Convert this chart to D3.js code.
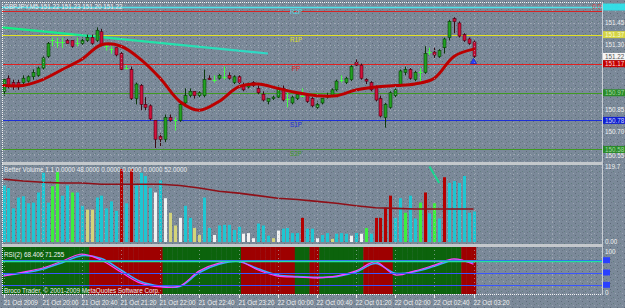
<!DOCTYPE html>
<html>
<head>
<meta charset="utf-8">
<script src="https://cdn.jsdelivr.net/npm/d3@7"></script>
<style>
html, body { margin: 0; padding: 0; background: #7a8898; }
svg { display: block; font-family: "Liberation Sans", Arial, sans-serif; }
</style>
</head>
<body>
<svg id="chart" width="625" height="308"></svg>
<script>
// ---- data ----
var timeLabels = ["21 Oct 2009", "21 Oct 20:00", "21 Oct 20:40", "21 Oct 21:20", "21 Oct 22:00",
  "21 Oct 22:40", "21 Oct 23:20", "22 Oct 00:00", "22 Oct 00:40", "22 Oct 01:20",
  "22 Oct 02:00", "22 Oct 02:40", "22 Oct 03:20"];
var labelBars = [0, 8, 16, 24, 32, 40, 48, 56, 64, 72, 80, 88, 96];

var opens = [150.98,151.07,151.04,151.04,151.04,151.05,151.08,151.09,151.14,151.22,
  151.33,151.32,151.32,151.33,151.33,151.31,151.31,151.33,151.35,151.33,
  151.39,151.29,151.27,151.28,151.24,151.14,151.13,150.93,151.02,150.89,
  150.88,150.78,150.67,150.65,150.80,150.78,150.78,150.90,150.95,150.98,
  150.95,150.95,151.07,151.06,151.07,151.08,151.09,151.04,151.08,151.02,
  151.01,151.04,151.00,150.96,150.91,150.93,150.94,151.00,150.93,150.90,
  150.93,150.95,150.95,150.93,150.87,150.90,150.94,150.95,150.99,151.06,
  151.04,151.06,151.18,151.16,151.06,151.04,151.01,150.93,150.80,150.87,
  150.95,151.02,151.11,151.13,151.06,151.11,151.11,151.25,151.25,151.22,
  151.28,151.35,151.48,151.45,151.37,151.34,151.32];
var highs = [151.07,151.09,151.06,151.06,151.09,151.09,151.13,151.15,151.22,151.32,
  151.35,151.35,151.35,151.34,151.33,151.35,151.35,151.37,151.37,151.42,
  151.41,151.31,151.29,151.28,151.25,151.16,151.15,151.04,151.03,150.94,
  150.89,150.78,150.69,150.82,150.82,150.80,150.90,151.00,151.00,150.98,
  150.98,151.13,151.09,151.09,151.10,151.15,151.11,151.09,151.09,151.04,
  151.04,151.05,151.02,150.98,150.93,150.95,151.02,151.02,150.97,150.95,
  150.97,151.00,150.95,150.94,150.91,150.93,150.97,151.00,151.06,151.09,
  151.08,151.16,151.20,151.17,151.07,151.05,151.02,150.95,150.90,150.98,
  151.00,151.13,151.15,151.14,151.12,151.14,151.29,151.28,151.28,151.27,
  151.35,151.47,151.49,151.46,151.38,151.35,151.33];
var lows = [150.95,151.00,150.99,150.99,151.02,151.04,151.06,151.08,151.13,151.21,
  151.29,151.28,151.28,151.31,151.28,151.29,151.30,151.32,151.30,151.32,
  151.29,151.26,151.24,151.22,151.12,151.13,150.92,150.89,150.85,150.85,
  150.78,150.59,150.60,150.63,150.77,150.71,150.77,150.89,150.94,150.93,
  150.94,150.94,151.06,151.04,151.06,151.06,151.06,151.03,151.03,150.98,
  151.00,151.01,150.96,150.91,150.89,150.92,150.93,150.91,150.87,150.89,
  150.92,150.94,150.90,150.87,150.86,150.89,150.93,150.94,150.98,151.04,
  151.03,151.05,151.15,151.06,151.03,150.98,150.91,150.80,150.73,150.86,
  150.94,151.01,151.09,151.06,151.05,151.04,151.10,151.23,151.21,151.21,
  151.24,151.33,151.38,151.35,151.32,151.30,151.21];
var closes = [151.06,151.02,151.02,151.01,151.07,151.08,151.11,151.14,151.21,151.31,
  151.33,151.32,151.32,151.31,151.29,151.31,151.33,151.35,151.31,151.40,
  151.30,151.29,151.27,151.23,151.13,151.14,150.93,151.03,150.89,150.87,
  150.79,150.65,150.65,150.80,150.78,150.78,150.89,150.95,150.98,150.95,
  150.97,151.06,151.06,151.06,151.09,151.08,151.07,151.08,151.04,150.99,
  151.03,151.02,150.97,150.92,150.93,150.94,151.00,150.92,150.93,150.94,
  150.96,150.95,150.91,150.88,150.89,150.93,150.95,150.99,151.05,151.06,
  151.07,151.15,151.16,151.07,151.05,150.99,150.92,150.81,150.89,150.97,
  150.99,151.12,151.13,151.07,151.11,151.11,151.24,151.25,151.23,151.26,
  151.34,151.46,151.46,151.36,151.33,151.31,151.22];

// indicator lines, one value every 4 bars
var sampleBars = [0,4,8,12,16,20,24,28,32,36,40,44,48,52,56,60,64,68,72,76,80,84,88,92,96];
var maValues = [151.02,151.02,151.06,151.13,151.20,151.30,151.29,151.20,151.07,150.91,
  150.85,150.91,151.01,151.03,151.00,150.97,150.95,150.95,150.99,151.01,
  151.02,151.03,151.07,151.22,151.27];
var volAvg = [99,96,94,93,93,91,91,91,91,89,85,80,77,73,69,67,64,61,57,54,53,52,52,52,52];
var rsiValues = [41,51,61,78,95,80,51,24,15,17,54,73,78,56,41,39,37,41,54,76,44,54,68,83,70];
var rsiSignal = [43,49,58,74,91,84,56,28,17,16,50,70,77,59,44,40,38,40,51,72,48,52,65,80,74];

var volumes = [89,85,53,70,72,61,62,78,109,62, 88,110,73,89,78,78,57,51,51,70,
  73,53,64,49,115,61,115,89,109,104, 85,78,97,69,46,26,38,57,38,22,
  11,70,22,11,26,27,27,19,24,13, 14,6,29,26,10,6,18,21,22,14,
  14,38,21,21,6,11,14,5,13,14, 13,10,14,13,22,13,38,38,54,73,
  38,69,46,73,37,62,78,45,61,37, 102,93,96,93,104,46,48];
var volKinds = ["c","c","c","c","c","c","c","c","c","c",
  "g","g","c","c","g","c","c","y","y","c",
  "c","c","c","c","r","c","r","c","c","c",
  "c","w","c","w","y","y","w","c","c","y",
  "y","c","c","w","c","c","c","c","c","w",
  "w","w","c","c","c","y","w","c","c","c",
  "c","r","c","c","w","c","c","y","c","c",
  "c","w","c","w","g","c","r","r","r","r",
  "c","c","g","c","c","g","r","c","g","c",
  "r","c","c","c","c","c","c"];

var rsiRedRuns = [[18, 32], [49, 59], [63, 64], [74, 79], [94, 96]];
var rsiLevels = [80, 50, 20];
var rsiSigLevel = 77;

var levelPrices = [151.56, 151.53, 151.37, 151.17, 150.97, 150.78, 150.58];
var levelNames = ["R2P", "", "R1P", "PP", "", "S1P", "S2P"];
var boxLevels = [0, 2, 3, 4, 5, 6];
var priceTicks = [151.45, 151.30, 151.15, 151.00, 150.85, 150.70, 150.55];
var bidPrice = 151.22;
var arrowPrice = 151.19;
var trendBars = [0, 54], trendPrices = [151.42, 151.24];
var volTrendBars = [87, 89], volTrendValues = [119, 93];

var titleText = "GBPJPY,M5  151.22 151.23 151.20 151.22";
var volTitle = "Better Volume 1.1 0.0000 48.0000 0.0000 0.0000 0.0000 52.0000";
var rsiTitle = "RSI(2) 68.406 71.255";
var copyText = "Broco Trader, \u00a9 2001-2009 MetaQuotes Software Corp.";

// ---- layout ----
var plotL = 2, plotR = 602;
var mainTop = 2, mainBot = 161;
var volTop = 165, volBot = 244;
var rsiTop = 247, rsiBot = 294;

var x = d3.scaleLinear().domain([0, 96]).range([3.5, 473.5]);
var step = x(1) - x(0);
var y = d3.scaleLinear().domain([150.70, 151.45]).range([132, 23]);
var yVol = d3.scaleLinear().domain([0, 119.7]).range([242, 166]);
var yRsi = d3.scaleLinear().domain([0, 100]).range([293, 252]);

var levelColor = ["#4fe3ea", "#d42424", "#e2e224", "#e02020", "#3f9a22", "#1d2fd6", "#3f9a22"];
var boxFill = ["#33dde6", null, "#d4d444", "#c40000", "#2a8a2a", "#1020d0", "#2a8a2a"];
var boxText = ["#3ae0e8", null, "#fafad0", "#ffd0d0", "#9fd89f", "#c8d0ff", "#9fd89f"];
var volColor = { c: "#1ec6d2", g: "#3cf03c", y: "#d4d47a", w: "#f2f2f2", r: "#b40000" };
var fs = "6.3px";

var svg = d3.select("#chart");
var defs = svg.append("defs");

// speckled background like the screenshot
var pat = defs.append("pattern").attr("id", "speck").attr("patternUnits", "userSpaceOnUse")
  .attr("width", 7).attr("height", 6);
pat.append("rect").attr("width", 7).attr("height", 6).attr("fill", "#7b8999");
[[1, 1, "#5d6978"], [4, 3, "#617d7c"], [6, 5, "#9aa5b1"], [2, 4, "#6a7685"]].forEach(function (p) {
  pat.append("rect").attr("x", p[0]).attr("y", p[1]).attr("width", 1).attr("height", 1).attr("fill", p[2]);
});
svg.append("rect").attr("width", 625).attr("height", 308).attr("fill", "url(#speck)");

function clip(id, top, bot) {
  defs.append("clipPath").attr("id", id).append("rect")
    .attr("x", plotL).attr("y", top).attr("width", plotR - plotL).attr("height", bot - top);
}
clip("cMain", mainTop, mainBot);
clip("cVol", volTop, volBot);
clip("cRsi", rsiTop, rsiBot);

var main = svg.append("g").attr("clip-path", "url(#cMain)");
var vol = svg.append("g").attr("clip-path", "url(#cVol)");
var rsi = svg.append("g").attr("clip-path", "url(#cRsi)");

// RSI zone background
function isRed(i) {
  return rsiRedRuns.some(function (r) { return i >= r[0] && i <= r[1]; });
}
rsi.selectAll("rect.zone").data(d3.range(closes.length)).enter().append("rect")
  .attr("x", function (i) { return x(i) - step / 2; })
  .attr("width", step + 0.3)
  .attr("y", rsiTop).attr("height", rsiBot - rsiTop)
  .attr("fill", function (i) { return isRed(i) ? "#9e0000" : "#0c630c"; });

// grid
var gridBars = d3.range(0, 124, 8);
svg.append("g").selectAll("line").data(gridBars).enter().append("line")
  .attr("x1", function (b) { return Math.round(x(b)) + 0.5; })
  .attr("x2", function (b) { return Math.round(x(b)) + 0.5; })
  .attr("y1", mainTop).attr("y2", rsiBot)
  .attr("stroke", "#b4bcc4").attr("stroke-width", 1).attr("stroke-dasharray", "1,3").attr("opacity", 0.6);
main.append("g").selectAll("line").data(priceTicks).enter().append("line")
  .attr("x1", plotL).attr("x2", plotR)
  .attr("y1", function (p) { return Math.round(y(p)) + 0.5; })
  .attr("y2", function (p) { return Math.round(y(p)) + 0.5; })
  .attr("stroke", "#b4bcc4").attr("stroke-dasharray", "1,3").attr("opacity", 0.6);

// pivot levels
main.append("g").selectAll("line").data(levelPrices).enter().append("line")
  .attr("x1", plotL).attr("x2", plotR)
  .attr("y1", function (p) { return Math.round(y(p)) + 0.5; })
  .attr("y2", function (p) { return Math.round(y(p)) + 0.5; })
  .attr("stroke", function (p, i) { return levelColor[i]; })
  .attr("stroke-width", function (p, i) { return i === 0 ? 1.4 : 1; });
main.append("g").selectAll("text").data(levelPrices).enter().append("text")
  .attr("x", 296).attr("y", function (p) { return y(p) + 7; })
  .attr("text-anchor", "middle").attr("font-size", fs)
  .attr("fill", function (p, i) { return levelColor[i]; })
  .text(function (p, i) { return levelNames[i]; });

// trend line
var grad = defs.append("linearGradient").attr("id", "tl").attr("gradientUnits", "userSpaceOnUse")
  .attr("x1", x(trendBars[0])).attr("x2", x(trendBars[1])).attr("y1", 0).attr("y2", 0);
grad.append("stop").attr("offset", 0).attr("stop-color", "#10f080");
grad.append("stop").attr("offset", 1).attr("stop-color", "#30d8c8");
main.append("line")
  .attr("x1", plotL).attr("y1", y(trendPrices[0]))
  .attr("x2", x(trendBars[1])).attr("y2", y(trendPrices[1]))
  .attr("stroke", "url(#tl)").attr("stroke-width", 2.2);

// candles
var gC = main.append("g");
d3.range(closes.length).forEach(function (i) {
  var o = opens[i], h = highs[i], l = lows[i], c = closes[i];
  var cx = Math.round(x(i)) + 0.5;
  var doji = o === c, up = c > o;
  gC.append("line").attr("x1", cx).attr("x2", cx).attr("y1", y(h)).attr("y2", y(l))
    .attr("stroke", doji ? "#44ff44" : (up ? "#0c3a0c" : "#3a0c16")).attr("stroke-width", 1);
  if (doji) {
    gC.append("line").attr("x1", cx - 2).attr("x2", cx + 2)
      .attr("y1", Math.round(y(o)) + 0.5).attr("y2", Math.round(y(o)) + 0.5)
      .attr("stroke", "#44ff44");
  } else {
    var top = y(Math.max(o, c)), bot = y(Math.min(o, c));
    gC.append("rect").attr("x", cx - 1.5).attr("width", 3)
      .attr("y", top).attr("height", Math.max(1, bot - top))
      .attr("fill", up ? "#22a022" : "#d0123c")
      .attr("stroke", up ? "#0b3d0b" : "#4a0012").attr("stroke-width", 0.6);
  }
});

// moving average
var lineMa = d3.line().curve(d3.curveCatmullRom.alpha(0.5))
  .x(function (d, i) { return x(sampleBars[i]); })
  .y(function (d) { return y(d); });
main.append("path").datum(maValues).attr("d", lineMa)
  .attr("fill", "none").attr("stroke", "#bb0000").attr("stroke-width", 3)
  .attr("stroke-linecap", "round");

// bid arrow
main.append("path").attr("d", d3.symbol(d3.symbolTriangle, 18)())
  .attr("transform", "translate(" + x(96) + "," + (y(arrowPrice) + 1) + ")")
  .attr("fill", "#2a3cff").attr("stroke", "#10208a").attr("stroke-width", 0.5);

// volume
vol.selectAll("rect").data(volumes).enter().append("rect")
  .attr("x", function (v, i) { return Math.round(x(i)) - 1; })
  .attr("width", 3)
  .attr("y", function (v) { return yVol(v); })
  .attr("height", function (v) { return yVol(0) - yVol(v); })
  .attr("fill", function (v, i) { return volColor[volKinds[i]]; });
var lineVol = d3.line()
  .x(function (d, i) { return x(sampleBars[i]); })
  .y(function (d) { return yVol(d); });
vol.append("path").datum(volAvg).attr("d", lineVol)
  .attr("fill", "none").attr("stroke", "#8e1018").attr("stroke-width", 1.6);
vol.append("line")
  .attr("x1", x(volTrendBars[0])).attr("y1", yVol(volTrendValues[0]))
  .attr("x2", x(volTrendBars[1])).attr("y2", yVol(volTrendValues[1]))
  .attr("stroke", "#18d890").attr("stroke-width", 2);

// RSI levels and lines
svg.append("g").selectAll("line").data(rsiLevels).enter().append("line")
  .attr("x1", plotL).attr("x2", 604)
  .attr("y1", function (v) { return Math.round(yRsi(v)) + 0.5; })
  .attr("y2", function (v) { return Math.round(yRsi(v)) + 0.5; })
  .attr("stroke", "#3a55ff").attr("stroke-width", 1);
svg.append("line").attr("x1", plotL).attr("x2", 604)
  .attr("y1", yRsi(rsiSigLevel)).attr("y2", yRsi(rsiSigLevel))
  .attr("stroke", "#22e0a0").attr("stroke-width", 1.4);
var lineRsi = d3.line().curve(d3.curveCatmullRom.alpha(0.5))
  .x(function (d, i) { return x(sampleBars[i]); })
  .y(function (d) { return yRsi(d); });
rsi.append("path").datum(rsiSignal).attr("d", lineRsi)
  .attr("fill", "none").attr("stroke", "#3aa8ff").attr("stroke-width", 1.6);
rsi.append("path").datum(rsiValues).attr("d", lineRsi)
  .attr("fill", "none").attr("stroke", "#ff3cff").attr("stroke-width", 1.2);

// panel frames and separators
svg.append("rect").attr("x", plotL).attr("y", mainBot + 1).attr("width", plotR - plotL).attr("height", 3).attr("fill", "#c4c8cc");
svg.append("rect").attr("x", plotL).attr("y", volBot).attr("width", plotR - plotL).attr("height", 3).attr("fill", "#c4c8cc");
svg.append("line").attr("x1", plotL).attr("x2", plotR).attr("y1", 2.5).attr("y2", 2.5)
  .attr("stroke", "#f4f4f4").attr("stroke-dasharray", "1,1");
svg.append("line").attr("x1", 2.5).attr("x2", 2.5).attr("y1", 2).attr("y2", rsiBot)
  .attr("stroke", "#f4f4f4").attr("stroke-dasharray", "1,1");
svg.append("line").attr("x1", plotL).attr("x2", plotR).attr("y1", rsiBot + 0.5).attr("y2", rsiBot + 0.5)
  .attr("stroke", "#f4f4f4").attr("stroke-dasharray", "1,1");
svg.append("line").attr("x1", plotR + 0.5).attr("x2", plotR + 0.5).attr("y1", 2).attr("y2", rsiBot + 1)
  .attr("stroke", "#c8ced4");

// price axis: a plain tick is hidden when a level box covers it,
// or pushed just below a box that sits right above it
var ax = svg.append("g").attr("font-size", fs);
var boxYs = boxLevels.map(function (k) { return y(levelPrices[k]); }).concat([y(bidPrice)]);
priceTicks.forEach(function (p) {
  var ty = y(p), hidden = false, shift = 0;
  boxYs.forEach(function (by) {
    var d = ty - by;
    if (Math.abs(d) < 3.6 || (d < 0 && d > -5)) hidden = true;
    else if (d > 0 && d < 6) shift = Math.max(shift, by + 6 - ty);
  });
  if (hidden) return;
  ax.append("text").attr("x", 605).attr("y", ty + 2.2 + shift)
    .attr("fill", "#f0f0f0").text(p.toFixed(2));
});
boxLevels.forEach(function (k) {
  var py = y(levelPrices[k]);
  ax.append("rect").attr("x", 603).attr("y", py - 3.5).attr("width", 22).attr("height", 7).attr("fill", boxFill[k]);
  ax.append("text").attr("x", 605).attr("y", py + 2.2).attr("fill", boxText[k]).text(levelPrices[k].toFixed(2));
});
ax.append("rect").attr("x", 603).attr("y", y(bidPrice) - 3.5).attr("width", 22).attr("height", 7).attr("fill", "#f6f6f6");
ax.append("text").attr("x", 605).attr("y", y(bidPrice) + 2.2).attr("fill", "#555").text(bidPrice.toFixed(2));

// volume / rsi axis
ax.append("text").attr("x", 605).attr("y", yVol(119.7) + 3).attr("fill", "#f0f0f0").text("119.7");
ax.append("text").attr("x", 605).attr("y", yVol(0) + 2.2).attr("fill", "#f0f0f0").text("0.00");
ax.append("text").attr("x", 605).attr("y", yRsi(100) + 2.2).attr("fill", "#f0f0f0").text("100");
ax.append("text").attr("x", 605).attr("y", yRsi(0) + 2.2).attr("fill", "#f0f0f0").text("0");
ax.selectAll("rect.lv").data(rsiLevels).enter().append("rect")
  .attr("x", 603).attr("width", 7)
  .attr("y", function (v) { return yRsi(v) - 3; }).attr("height", 6)
  .attr("fill", "#2a40ff");

// time axis
var tx = svg.append("g").attr("font-size", fs).attr("fill", "#f0f0f0");
labelBars.forEach(function (b, i) {
  var px = Math.round(x(b)) + 0.5;
  tx.append("line").attr("x1", px).attr("x2", px).attr("y1", rsiBot + 1).attr("y2", rsiBot + 4).attr("stroke", "#e8e8e8");
  tx.append("text").attr("x", px - 1).attr("y", 304.5).text(timeLabels[i]);
});

// titles
var tt = svg.append("g").attr("font-size", fs).attr("fill", "#eef0f2");
tt.append("text").attr("x", 4).attr("y", 8.8).text(titleText);
tt.append("text").attr("x", 4).attr("y", 172).text(volTitle);
tt.append("text").attr("x", 4).attr("y", 256.5).text(rsiTitle);
tt.append("text").attr("x", 4).attr("y", 292.5).text(copyText);
svg.append("text").attr("x", 601).attr("y", 8.5).attr("text-anchor", "end")
  .attr("font-size", fs).attr("fill", "#e03a3a").text("0.0");
</script>
</body>
</html>
